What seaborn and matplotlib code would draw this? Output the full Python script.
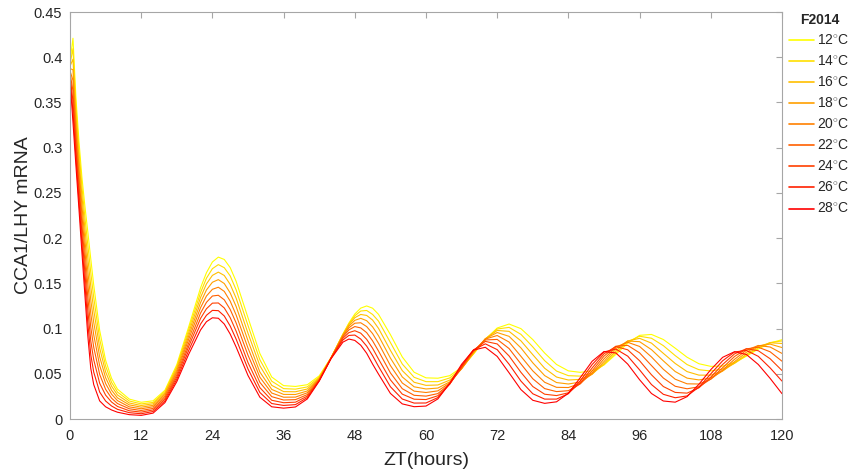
import matplotlib
matplotlib.use("Agg")
import matplotlib.pyplot as plt
from matplotlib.lines import Line2D
import numpy as np
import pandas as pd
import seaborn as sns

# Sampling times (ZT, hours)
zt = [0, 0.5, 1, 1.5, 2, 2.5, 3, 3.5, 4, 5, 6, 7, 8] + list(range(10, 121, 2))
# Extra samples around the first two peaks
zt_peaks = [23, 25, 27, 47, 49, 51]

# Simulated CCA1/LHY mRNA levels (F2014 model) at each temperature
temp_12 = [0.395, 0.421, 0.355, 0.308, 0.268, 0.236, 0.207, 0.177, 0.148, 0.098, 0.065, 0.045, 0.033, 0.022,
           0.0185, 0.0201, 0.0318, 0.0601, 0.1018, 0.1450, 0.1736, 0.1764, 0.1522, 0.1120,
           0.0724, 0.0464, 0.0369, 0.0360, 0.0379, 0.0477, 0.0678, 0.0938, 0.1161, 0.1250,
           0.1157, 0.0933, 0.0686, 0.0517, 0.0455, 0.0451, 0.0479, 0.0571, 0.0718, 0.0880,
           0.1006, 0.1050, 0.0999, 0.0878, 0.0729, 0.0603, 0.0532, 0.0516, 0.0532, 0.0598,
           0.0714, 0.0839, 0.0925, 0.0935, 0.0879, 0.0783, 0.0683, 0.0611, 0.0582, 0.0585,
           0.0625, 0.0695, 0.0773, 0.0840, 0.0877]
temp_14 = [0.3925, 0.4094, 0.3456, 0.2986, 0.2576, 0.2238, 0.1926, 0.1619, 0.1343, 0.0883, 0.0586, 0.0406, 0.0298, 0.0199,
           0.0167, 0.0183, 0.0303, 0.0581, 0.0986, 0.1397, 0.1662, 0.1673, 0.1428, 0.1034,
           0.0655, 0.0418, 0.0336, 0.0330, 0.0355, 0.0464, 0.0677, 0.0937, 0.1141, 0.1200,
           0.1082, 0.0846, 0.0608, 0.0461, 0.0413, 0.0413, 0.0454, 0.0561, 0.0722, 0.0885,
           0.0995, 0.1013, 0.0936, 0.0797, 0.0645, 0.0530, 0.0479, 0.0474, 0.0508, 0.0600,
           0.0733, 0.0854, 0.0915, 0.0893, 0.0811, 0.0701, 0.0602, 0.0545, 0.0531, 0.0552,
           0.0615, 0.0701, 0.0785, 0.0845, 0.0863]
temp_16 = [0.390, 0.3978, 0.3363, 0.2893, 0.2473, 0.2115, 0.1783, 0.1468, 0.1205, 0.0785, 0.0521, 0.0363, 0.0266, 0.0177,
           0.0149, 0.0168, 0.0288, 0.0562, 0.0952, 0.1343, 0.1588, 0.1587, 0.1336, 0.0948,
           0.0589, 0.0372, 0.0303, 0.0301, 0.0332, 0.0454, 0.0676, 0.0933, 0.1120, 0.1145,
           0.1002, 0.0759, 0.0535, 0.0406, 0.0372, 0.0376, 0.0430, 0.0556, 0.0727, 0.0887,
           0.0979, 0.0969, 0.0864, 0.0711, 0.0561, 0.0464, 0.0431, 0.0438, 0.0495, 0.0613,
           0.0755, 0.0863, 0.0892, 0.0839, 0.0726, 0.0614, 0.0524, 0.0485, 0.0485, 0.0533,
           0.0618, 0.0716, 0.0799, 0.0843, 0.0835]
temp_18 = [0.3875, 0.3861, 0.3269, 0.2799, 0.2369, 0.1993, 0.1639, 0.1316, 0.1068, 0.0688, 0.0457, 0.0319, 0.0234, 0.0156,
           0.0131, 0.0151, 0.0272, 0.0538, 0.0917, 0.1287, 0.1512, 0.1498, 0.1244, 0.0865,
           0.0519, 0.0327, 0.0272, 0.0271, 0.0310, 0.0445, 0.0676, 0.0928, 0.1091, 0.1087,
           0.0920, 0.0674, 0.0465, 0.0356, 0.0332, 0.0342, 0.0411, 0.0555, 0.0735, 0.0887,
           0.0956, 0.0914, 0.0786, 0.0621, 0.0480, 0.0403, 0.0387, 0.0409, 0.0496, 0.0635,
           0.0779, 0.0862, 0.0855, 0.0767, 0.0643, 0.0525, 0.0452, 0.0432, 0.0454, 0.0530,
           0.0634, 0.0738, 0.0809, 0.0828, 0.0790]
temp_20 = [0.385, 0.3745, 0.3175, 0.2705, 0.2265, 0.187, 0.1495, 0.1165, 0.093, 0.059, 0.0393, 0.0275, 0.0203, 0.0134,
           0.0113, 0.0135, 0.0255, 0.0516, 0.0881, 0.1230, 0.1434, 0.1411, 0.1150, 0.0784,
           0.0462, 0.0287, 0.0241, 0.0242, 0.0290, 0.0438, 0.0676, 0.0920, 0.1059, 0.1022,
           0.0837, 0.0591, 0.0398, 0.0308, 0.0293, 0.0311, 0.0399, 0.0559, 0.0744, 0.0884,
           0.0923, 0.0851, 0.0693, 0.0532, 0.0406, 0.0350, 0.0348, 0.0393, 0.0508, 0.0664,
           0.0796, 0.0848, 0.0802, 0.0686, 0.0550, 0.0440, 0.0389, 0.0387, 0.0440, 0.0541,
           0.0660, 0.0760, 0.0813, 0.0796, 0.0725]
temp_22 = [0.3825, 0.3629, 0.3081, 0.2611, 0.2161, 0.1748, 0.1351, 0.1014, 0.0793, 0.0493, 0.0328, 0.0231, 0.0171, 0.0113,
           0.0094, 0.0117, 0.0236, 0.0490, 0.0839, 0.1171, 0.1360, 0.1318, 0.1062, 0.0705,
           0.0405, 0.0247, 0.0210, 0.0214, 0.0270, 0.0432, 0.0675, 0.0909, 0.1022, 0.0955,
           0.0751, 0.0510, 0.0335, 0.0262, 0.0253, 0.0281, 0.0389, 0.0566, 0.0752, 0.0874,
           0.0880, 0.0779, 0.0609, 0.0445, 0.0336, 0.0303, 0.0313, 0.0388, 0.0532, 0.0695,
           0.0805, 0.0814, 0.0731, 0.0591, 0.0453, 0.0362, 0.0334, 0.0356, 0.0442, 0.0567,
           0.0691, 0.0775, 0.0794, 0.0743, 0.0639]
temp_24 = [0.380, 0.3513, 0.2988, 0.2518, 0.2058, 0.1625, 0.1208, 0.0863, 0.0655, 0.0395, 0.0264, 0.0188, 0.0139, 0.0091,
           0.0076, 0.0100, 0.0218, 0.0465, 0.0801, 0.1112, 0.1281, 0.1228, 0.0971, 0.0624,
           0.0347, 0.0207, 0.0180, 0.0186, 0.0253, 0.0426, 0.0674, 0.0893, 0.0976, 0.0881,
           0.0663, 0.0433, 0.0275, 0.0219, 0.0215, 0.0257, 0.0386, 0.0577, 0.0760, 0.0858,
           0.0830, 0.0697, 0.0516, 0.0359, 0.0274, 0.0259, 0.0290, 0.0397, 0.0564, 0.0721,
           0.0801, 0.0765, 0.0644, 0.0489, 0.0359, 0.0294, 0.0286, 0.0345, 0.0463, 0.0603,
           0.0720, 0.0777, 0.0755, 0.0666, 0.0536]
temp_26 = [0.3775, 0.3396, 0.2894, 0.2424, 0.1954, 0.1503, 0.1064, 0.0711, 0.0518, 0.0298, 0.0199, 0.0144, 0.0107, 0.0070,
           0.0058, 0.0083, 0.0199, 0.0439, 0.0757, 0.1049, 0.1201, 0.1139, 0.0883, 0.0553,
           0.0293, 0.0171, 0.0150, 0.0159, 0.0237, 0.0423, 0.0671, 0.0874, 0.0928, 0.0806,
           0.0581, 0.0357, 0.0221, 0.0176, 0.0177, 0.0237, 0.0387, 0.0590, 0.0764, 0.0831,
           0.0767, 0.0606, 0.0419, 0.0279, 0.0220, 0.0220, 0.0280, 0.0422, 0.0602, 0.0741,
           0.0773, 0.0695, 0.0543, 0.0381, 0.0273, 0.0235, 0.0255, 0.0353, 0.0499, 0.0644,
           0.0741, 0.0758, 0.0693, 0.0565, 0.0419]
temp_28 = [0.375, 0.328, 0.280, 0.233, 0.185, 0.138, 0.092, 0.056, 0.038, 0.020, 0.0135, 0.010, 0.0075, 0.0048,
           0.0040, 0.0065, 0.0181, 0.0413, 0.0715, 0.0984, 0.1119, 0.1050, 0.0796, 0.0481,
           0.0241, 0.0135, 0.0120, 0.0133, 0.0222, 0.0419, 0.0667, 0.0850, 0.0869, 0.0727,
           0.0496, 0.0283, 0.0167, 0.0136, 0.0143, 0.0222, 0.0395, 0.0605, 0.0762, 0.0793,
           0.0692, 0.0511, 0.0325, 0.0207, 0.0173, 0.0190, 0.0285, 0.0457, 0.0638, 0.0746,
           0.0730, 0.0607, 0.0434, 0.0282, 0.0199, 0.0186, 0.0247, 0.0384, 0.0546, 0.0682,
           0.0744, 0.0713, 0.0603, 0.0449, 0.0280]

# Values at the extra peak samples (zt_peaks)
peak_12 = [0.1618, 0.1790, 0.1674, 0.1061, 0.1226, 0.1225]
peak_14 = [0.1557, 0.1707, 0.1582, 0.1053, 0.1194, 0.1156]
peak_16 = [0.1494, 0.1624, 0.1488, 0.1042, 0.1156, 0.1094]
peak_18 = [0.1427, 0.1541, 0.1394, 0.1027, 0.1113, 0.1019]
peak_20 = [0.1360, 0.1457, 0.1303, 0.1008, 0.1064, 0.0944]
peak_22 = [0.1290, 0.1368, 0.1211, 0.0985, 0.1007, 0.0864]
peak_24 = [0.1219, 0.1283, 0.1120, 0.0955, 0.0949, 0.0782]
peak_26 = [0.1147, 0.1198, 0.1028, 0.0924, 0.0884, 0.0700]
peak_28 = [0.1076, 0.1114, 0.0939, 0.0884, 0.0816, 0.0607]

temperatures = [12, 14, 16, 18, 20, 22, 24, 26, 28]
series = [temp_12, temp_14, temp_16, temp_18, temp_20, temp_22, temp_24, temp_26, temp_28]
peak_series = [peak_12, peak_14, peak_16, peak_18, peak_20, peak_22, peak_24, peak_26, peak_28]
labels = [f"{t}$^{{\\circ}}$C" for t in temperatures]

x_ticks = list(range(0, 121, 12))
y_ticks = [0, 0.05, 0.1, 0.15, 0.2, 0.25, 0.3, 0.35, 0.4, 0.45]
y_tick_labels = ["0", "0.05", "0.1", "0.15", "0.2", "0.25", "0.3", "0.35", "0.4", "0.45"]

frames = []
for lab, vals, pvals in zip(labels, series, peak_series):
    if len(vals) != len(zt) or len(pvals) != len(zt_peaks):
        raise ValueError(f"length mismatch for {lab}")
    part = pd.DataFrame({"ZT": zt + zt_peaks, "mRNA": vals + pvals, "temp": lab})
    frames.append(part.sort_values("ZT"))
df = pd.concat(frames, ignore_index=True)

# autumn-style palette: yellow at 12 C through red at 28 C
n = len(temperatures)
colors = [(1.0, 1.0 - k / (n - 1), 0.0) for k in range(n)]

sns.set_theme(style="white")
plt.rcParams["font.family"] = ["Liberation Sans", "DejaVu Sans"]
plt.rcParams["mathtext.fontset"] = "custom"
plt.rcParams["mathtext.rm"] = "Liberation Sans"

fig = plt.figure(figsize=(8.51, 4.73), dpi=100)
fig.patch.set_facecolor("white")
W, H = 851, 473
ax = fig.add_axes([70 / W, 1 - 419 / H, (782 - 70) / W, (419 - 12) / H])

sns.lineplot(data=df, x="ZT", y="mRNA", hue="temp", hue_order=labels,
             palette=colors, ax=ax, linewidth=0.8, legend=False,
             estimator=None, sort=False)

ax.set_xlim(0, 120)
ax.set_ylim(0, 0.45)
ax.set_xticks(x_ticks)
ax.set_yticks(y_ticks)
ax.set_yticklabels(y_tick_labels)

frame_col = "#a6a6a6"
for side in ["left", "right", "top", "bottom"]:
    ax.spines[side].set_visible(True)
    ax.spines[side].set_color(frame_col)
    ax.spines[side].set_linewidth(0.8)
ax.tick_params(direction="in", top=True, right=True, length=4, width=0.8,
               color=frame_col, labelcolor="#262626", labelsize=10.5)
ax.tick_params(axis="x", pad=7.5)
ax.tick_params(axis="y", pad=5.5)

ax.set_xlabel("ZT(hours)", fontsize=14, color="#262626")
ax.set_ylabel("CCA1/LHY mRNA", fontsize=14, color="#262626")
ax.xaxis.set_label_coords(0.5, -0.082)
ax.yaxis.set_label_coords(-0.054, 0.5)

handles = [Line2D([0], [0], color=c, lw=1.2) for c in colors]
leg = fig.legend(handles, labels, loc="upper left",
                 bbox_to_anchor=(789 / W, 1 - 12.5 / H), frameon=False,
                 title="F2014", title_fontproperties={"weight": "bold", "size": 10},
                 fontsize=10, handlelength=1.8, handletextpad=0.25,
                 labelspacing=0.475, borderpad=0, borderaxespad=0)

fig.savefig("out.png", dpi=100, facecolor="white")
